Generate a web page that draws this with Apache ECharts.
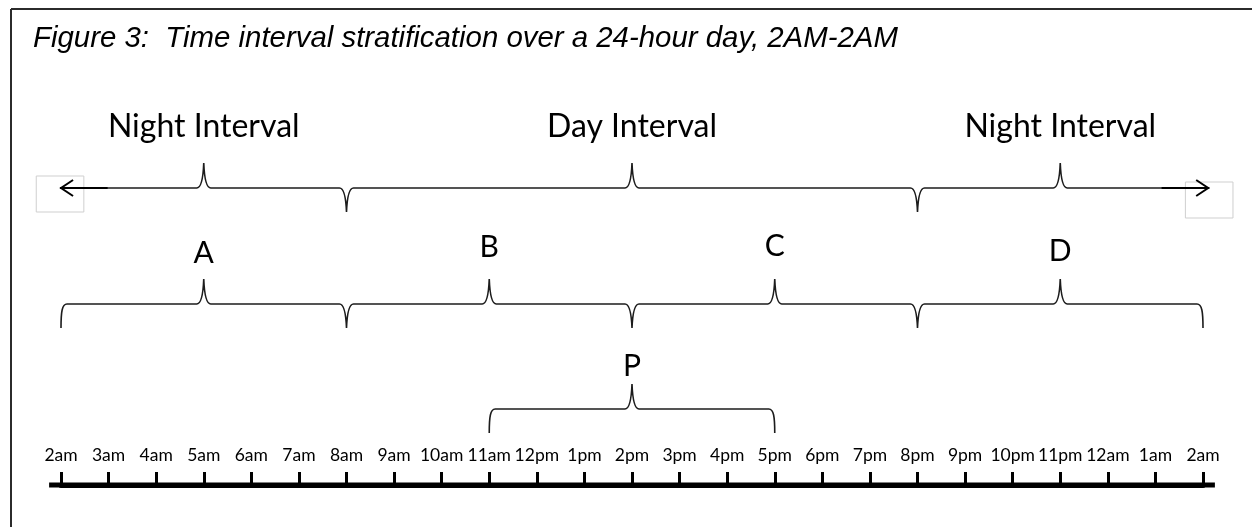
<!DOCTYPE html>
<html>
<head>
<meta charset="utf-8">
<title>Figure 3: Time interval stratification</title>
<script src="https://cdn.jsdelivr.net/npm/echarts@6/dist/echarts.min.js"></script>
<style>
  html, body { margin: 0; padding: 0; background: #fff; }
  #chart { width: 1252px; height: 527px; }
</style>
</head>
<body>
<div id="chart"></div>
<script>
// hours counted from 2am (0) to the next 2am (24)
const hourLabels = ['2am', '3am', '4am', '5am', '6am', '7am', '8am', '9am', '10am', '11am', '12pm', '1pm',
  '2pm', '3pm', '4pm', '5pm', '6pm', '7pm', '8pm', '9pm', '10pm', '11pm', '12am', '1am', '2am'];

// top row: night / day / night, open ended with arrows
const intervalNames = ['Night Interval', 'Day Interval', 'Night Interval'];
const intervalCenters = [3, 12, 21];
const intervalBounds = [6, 18];
const arrowEnds = [-0.02, 24.13];

// second row: four 6-hour blocks
const blockNames = ['A', 'B', 'C', 'D'];
const blockCenters = [3, 9, 15, 21];
const blockBounds = [0, 6, 12, 18, 24];

// third row: P
const peakNames = ['P'];
const peakCenters = [12];
const peakBounds = [9, 15];

// baseline runs a little past both ends
const baselineEnds = [-0.25, 24.25];

// vertical layout, y axis is 0..485 from the top, the time axis sits at 485
const rowY = { interval: 188, block: 304, peak: 409, axis: 485 };
const labelY = { interval: [127, 127, 127], block: [253, 247, 246, 251], peak: [366] };
const CUSP = 25;   // height of the brace points
const CURL = 24;   // depth of the curled ends
const FONT = 'Lato, "Open Sans", sans-serif';
const INK = '#1c1c1c';

const braces = [
  { row: 'interval', from: arrowEnds[0], to: arrowEnds[1], ends: 'arrow', up: intervalCenters, down: intervalBounds },
  { row: 'block', from: blockBounds[0], to: blockBounds[blockBounds.length - 1], ends: 'curl', up: blockCenters, down: blockBounds.slice(1, -1) },
  { row: 'peak', from: peakBounds[0], to: peakBounds[1], ends: 'curl', up: peakCenters, down: [] }
];

const labels = [];
intervalNames.forEach((n, i) => labels.push({ text: n, x: intervalCenters[i], y: labelY.interval[i], size: 32 }));
blockNames.forEach((n, i) => labels.push({ text: n, x: blockCenters[i], y: labelY.block[i], size: 30 }));
peakNames.forEach((n, i) => labels.push({ text: n, x: peakCenters[i], y: labelY.peak[i], size: 30 }));

function bracePath(api, b) {
  const y = rowY[b.row];
  const x0 = api.coord([b.from, y])[0];
  const x1 = api.coord([b.to, y])[0];
  const ys = api.coord([b.from, y])[1];
  const cusps = b.up.map(h => [api.coord([h, y])[0], -CUSP])
    .concat(b.down.map(h => [api.coord([h, y])[0], CUSP - 1]))
    .sort((p, q) => p[0] - q[0]);
  let d = b.ends === 'curl'
    ? `M${x0},${ys + CURL} C${x0},${ys + 8} ${x0 + 1},${ys} ${x0 + 6},${ys}`
    : `M${x0},${ys}`;
  cusps.forEach(([cx, h]) => {
    d += ` L${cx - 7},${ys} Q${cx - 1},${ys} ${cx},${ys + h} Q${cx + 1},${ys} ${cx + 7},${ys}`;
  });
  d += b.ends === 'curl'
    ? ` L${x1 - 6},${ys} C${x1 - 1},${ys} ${x1},${ys + 8} ${x1},${ys + CURL}`
    : ` L${x1},${ys}`;
  return d;
}

function renderBrace(params, api) {
  const b = braces[params.dataIndex];
  const children = [{
    type: 'path',
    shape: { pathData: bracePath(api, b) },
    style: { fill: 'none', stroke: INK, lineWidth: 1.6 }
  }];
  if (b.ends === 'arrow') {
    const y = rowY[b.row];
    [[b.from, 1, 6], [b.to, -1, 12]].forEach(([h, dir, boxDy]) => {
      const tip = api.coord([h, y]);
      const back = api.coord([h + dir, y]);
      const bl = api.coord([h - 0.5, y]);
      const br = api.coord([h + 0.5, y]);
      children.push({
        type: 'rect',
        shape: { x: bl[0], y: tip[1] + boxDy - 18, width: br[0] - bl[0], height: 36 },
        style: { fill: 'none', stroke: '#cfcfcf', lineWidth: 1 }
      });
      children.push({
        type: 'line',
        shape: { x1: tip[0], y1: tip[1], x2: back[0], y2: back[1] },
        style: { stroke: '#000', lineWidth: 2 }
      });
      children.push({
        type: 'polyline',
        shape: { points: [[tip[0] + dir * 13, tip[1] - 8], [tip[0] + 1 * dir, tip[1]], [tip[0] + dir * 13, tip[1] + 8]] },
        style: { fill: 'none', stroke: '#000', lineWidth: 2 }
      });
    });
  }
  return { type: 'group', children: children };
}

function renderLabel(params, api) {
  const l = labels[params.dataIndex];
  const p = api.coord([l.x, l.y]);
  return {
    type: 'text',
    x: p[0], y: p[1],
    style: {
      text: l.text, fill: '#000', fontFamily: FONT, fontSize: l.size,
      align: 'center', verticalAlign: 'middle'
    }
  };
}

function renderBaseline(params, api) {
  const a = api.coord([api.value(0), rowY.axis]);
  const b = api.coord([api.value(1), rowY.axis]);
  return {
    type: 'line',
    shape: { x1: a[0], y1: a[1], x2: b[0], y2: b[1] },
    style: { stroke: '#000', lineWidth: 5 }
  };
}

const chart = echarts.init(document.getElementById('chart'));
chart.setOption({
  animation: false,
  backgroundColor: '#fff',
  title: {
    text: 'Figure 3:  Time interval stratification over a 24-hour day, 2AM-2AM',
    left: 33, top: 24, padding: 0,
    textStyle: { fontFamily: '"Liberation Sans", Arial, sans-serif', fontStyle: 'italic', fontWeight: 'normal', fontSize: 29.4, color: '#000' }
  },
  graphic: [
    { type: 'line', shape: { x1: 11, y1: 9, x2: 1252, y2: 9 }, style: { stroke: '#2b2b2b', lineWidth: 2 } },
    { type: 'line', shape: { x1: 11, y1: 9, x2: 11, y2: 527 }, style: { stroke: '#2b2b2b', lineWidth: 2 } }
  ],
  grid: { left: 61, right: 49, top: 0, bottom: 42, outerBoundsMode: 'none' },
  xAxis: {
    type: 'value', min: 0, max: 24, interval: 1,
    axisLine: { show: true, onZero: false, lineStyle: { color: '#000', width: 5 } },
    axisTick: { show: true, inside: true, length: 13, lineStyle: { color: '#000', width: 3 } },
    axisLabel: {
      inside: true, margin: 21, color: '#000', fontFamily: FONT, fontSize: 17.5,
      formatter: v => hourLabels[v] || ''
    },
    splitLine: { show: false }
  },
  yAxis: { type: 'value', min: 0, max: rowY.axis, inverse: true, show: false },
  series: [
    { type: 'custom', name: 'baseline', renderItem: renderBaseline, data: [baselineEnds], clip: false, silent: true },
    { type: 'custom', name: 'braces', renderItem: renderBrace, data: braces.map((b, i) => [i]), clip: false, silent: true },
    { type: 'custom', name: 'labels', renderItem: renderLabel, data: labels.map(l => [l.x, l.y]), clip: false, silent: true }
  ]
});
</script>
</body>
</html>
